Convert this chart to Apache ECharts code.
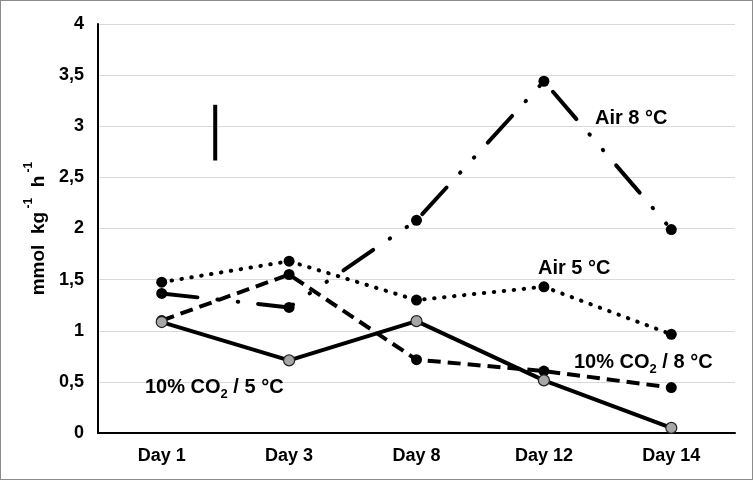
<!DOCTYPE html>
<html>
<head>
<meta charset="utf-8">
<script src="https://cdn.jsdelivr.net/npm/echarts@6/dist/echarts.min.js"></script>
<style>
html,body{margin:0;padding:0;background:#fff;}
#c{width:753px;height:480px;box-sizing:border-box;border:1px solid #8c8c8c;}
</style>
</head>
<body>
<div id="c"></div>
<script>
const categories = ['Day 1', 'Day 3', 'Day 8', 'Day 12', 'Day 14'];
const air8 = [1.365, 1.228, 2.08, 3.44, 1.99];
const air5 = [1.475, 1.68, 1.30, 1.43, 0.965];
const co2at8 = [1.10, 1.55, 0.717, 0.606, 0.444];
const co2at5 = [1.085, 0.71, 1.094, 0.515, 0.05];
const yTicks = { min: 0, max: 4, interval: 0.5 };
const lsdBar = [[0.42, 2.665], [0.42, 3.21]];

const FONT = 'Liberation Sans';
const chart = echarts.init(document.getElementById('c'));
const labelRich = {
  a: { fontFamily: FONT, fontWeight: 'bold', fontSize: 20, color: '#000', lineHeight: 28, verticalAlign: 'middle' },
  sub: { fontFamily: FONT, fontWeight: 'bold', fontSize: 13, color: '#000', lineHeight: 28, verticalAlign: 'bottom' }
};
function txt(x, y, t) {
  return { type: 'text', left: x, top: y, z: 100,
    style: { text: t, rich: labelRich, fill: '#000', font: 'bold 20px "' + FONT + '"' } };
}
chart.setOption({
  animation: false,
  backgroundColor: '#fff',
  grid: { left: 97, right: 17, top: 23, bottom: 46 },
  xAxis: [{
    type: 'category', data: categories, boundaryGap: true,
    axisLine: { lineStyle: { color: '#000', width: 2 } },
    axisTick: { show: false },
    axisLabel: { fontFamily: FONT, fontWeight: 'bold', fontSize: 18, color: '#000', margin: 14 },
    splitLine: { show: false }
  }, {
    type: 'value', min: -0.5, max: 4.5, show: false
  }],
  yAxis: {
    type: 'value', min: yTicks.min, max: yTicks.max, interval: yTicks.interval,
    axisLine: { show: true, onZero: false, lineStyle: { color: '#000', width: 2 } },
    axisTick: { show: false },
    axisLabel: { fontFamily: FONT, fontWeight: 'bold', fontSize: 18, color: '#000', margin: 14,
      formatter: v => String(v).replace('.', ',') },
    splitLine: { lineStyle: { color: '#d9d9d9', width: 1 } },
    name: '{a|mmol  kg}{s| -1}{a|  h}{s| -1}',
    nameLocation: 'middle', nameGap: 48, nameRotate: 90,
    nameTextStyle: {
      rich: {
        a: { fontFamily: FONT, fontWeight: 'bold', fontSize: 19, color: '#000', lineHeight: 25, verticalAlign: 'bottom' },
        s: { fontFamily: FONT, fontWeight: 'bold', fontSize: 12, color: '#000', lineHeight: 25, verticalAlign: 'top' }
      }
    }
  },
  series: [
    {
      name: 'Air 8 °C', type: 'line', data: air8, symbol: 'circle', symbolSize: 11,
      itemStyle: { color: '#000' },
      lineStyle: { color: '#000', width: 4, type: [36, 20, 0.5, 20, 0.5, 20], cap: 'round' }
    },
    {
      name: 'Air 5 °C', type: 'line', data: air5, symbol: 'circle', symbolSize: 11,
      itemStyle: { color: '#000' },
      lineStyle: { color: '#000', width: 4, type: [0.5, 9.5], cap: 'round' }
    },
    {
      name: '10% CO2 / 8 °C', type: 'line', data: co2at8, symbol: 'circle', symbolSize: 11,
      itemStyle: { color: '#000' },
      lineStyle: { color: '#000', width: 4, type: [13, 7] }
    },
    {
      name: '10% CO2 / 5 °C', type: 'line', data: co2at5, symbol: 'circle', symbolSize: 11,
      itemStyle: { color: '#a6a6a6', borderColor: '#222', borderWidth: 1.2 },
      lineStyle: { color: '#000', width: 4 }, z: 3
    },
    {
      name: 'LSD', type: 'line', xAxisIndex: 1, data: lsdBar, symbol: 'none',
      lineStyle: { color: '#000', width: 4 }
    }
  ],
  graphic: [
    txt(594, 107, '{a|Air 8 °C}'),
    txt(537, 257, '{a|Air 5 °C}'),
    txt(573, 351, '{a|10% CO}{sub|2}{a| / 8 °C}'),
    txt(144, 376, '{a|10% CO}{sub|2}{a| / 5 °C}')
  ]
});
</script>
</body>
</html>
